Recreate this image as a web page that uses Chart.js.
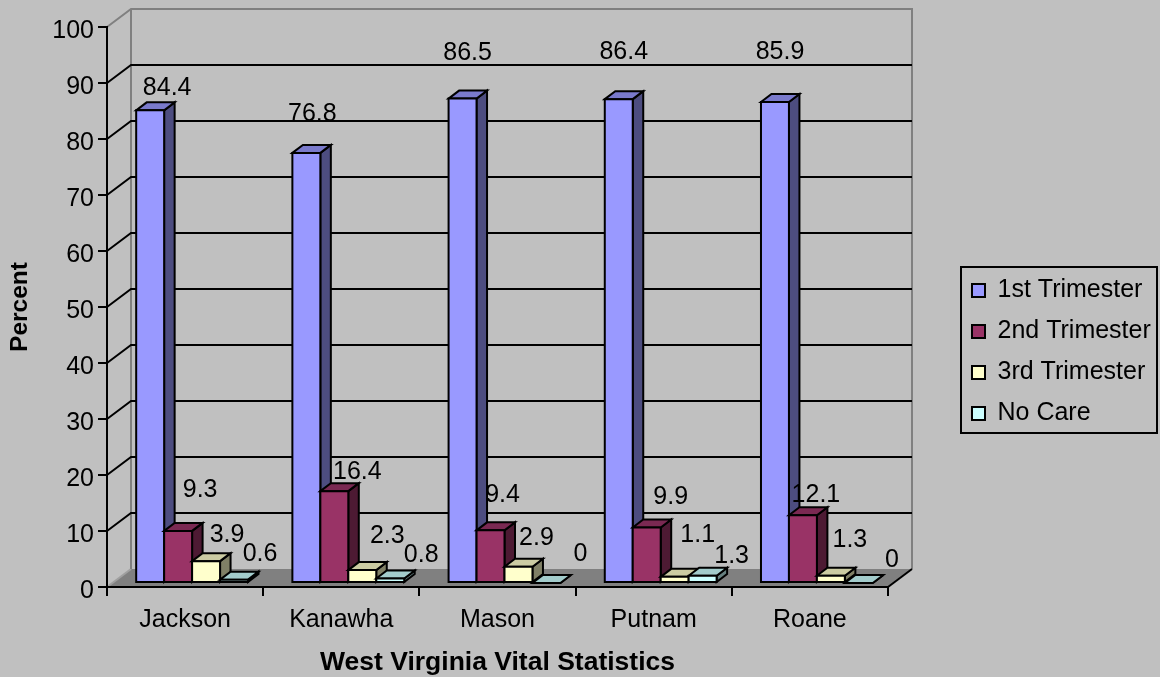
<!DOCTYPE html>
<html>
<head>
<meta charset="utf-8">
<title>West Virginia Vital Statistics</title>
<script src="https://cdn.jsdelivr.net/npm/chart.js@4"></script>
<style>
  html, body { margin: 0; padding: 0; background: #c0c0c0; }
  canvas { display: block; }
</style>
</head>
<body>
<canvas id="chart" width="1160" height="677"></canvas>
<script>
const counties = ["Jackson", "Kanawha", "Mason", "Putnam", "Roane"];
const firstTrimester = [84.4, 76.8, 86.5, 86.4, 85.9];
const secondTrimester = [9.3, 16.4, 9.4, 9.9, 12.1];
const thirdTrimester = [3.9, 2.3, 2.9, 1.1, 1.3];
const noCare = [0.6, 0.8, 0, 1.3, 0];
const yTicks = [0, 10, 20, 30, 40, 50, 60, 70, 80, 90, 100];

// the label placement in the original is uneven, so nudge per label [dx, dy] from bar top
const labelNudge = [
  [[17, -24], [22, -43], [21, -28], [26, -28]],
  [[6, -41], [23, -21], [25, -36], [31, -25]],
  [[5, -47], [12, -37], [18, -31], [34, -31]],
  [[5, -49], [24, -32], [23, -44], [29, -22]],
  [[5, -52], [13, -22], [19, -38], [33, -25]],
];

const FONT = "Liberation Sans, Arial, sans-serif";
const WALL = { dx: 24, dy: -18 };
const BAR_SHIFT = { dx: 7, dy: -4 };
const BAR_DEPTH = { dx: 10.5, dy: -8 };
const LABEL_DROP = 2;
const LEGEND_BOX = { left: 961, top: 267, right: 1157, bottom: 433 };

const faces = [
  { front: "#9999ff", top: "#7a7acc", side: "#4d4d80" },
  { front: "#993366", top: "#7a2952", side: "#4d1a33" },
  { front: "#ffffcc", top: "#cccca3", side: "#808066" },
  { front: "#ccffff", top: "#a3cccc", side: "#668080" },
];

function poly(ctx, pts, fill, stroke, width) {
  ctx.beginPath();
  pts.forEach((p, i) => (i ? ctx.lineTo(p[0], p[1]) : ctx.moveTo(p[0], p[1])));
  ctx.closePath();
  if (fill) {
    ctx.fillStyle = fill;
    ctx.fill();
  }
  if (stroke) {
    ctx.strokeStyle = stroke;
    ctx.lineWidth = width;
    ctx.stroke();
  }
}

function segment(ctx, pts, color, width) {
  ctx.beginPath();
  pts.forEach((p, i) => (i ? ctx.lineTo(p[0], p[1]) : ctx.moveTo(p[0], p[1])));
  ctx.strokeStyle = color;
  ctx.lineWidth = width;
  ctx.stroke();
}

const walls3d = {
  id: "walls3d",
  beforeDraw(chart) {
    const { ctx, chartArea: a, scales } = chart;
    const { dx, dy } = WALL;
    const y0 = scales.y.getPixelForValue(0);
    const y100 = scales.y.getPixelForValue(100);
    ctx.save();
    poly(ctx, [[a.left, y0], [a.left + dx, y0 + dy], [a.right + dx, y0 + dy], [a.right, y0]], "#808080");
    segment(ctx, [[a.left, y0], [a.left + dx, y0 + dy]], "#a0a0a0", 2);
    segment(ctx, [[a.left, y100], [a.left + dx, y100 + dy], [a.right + dx, y100 + dy], [a.right + dx, y0 + dy]], "#808080", 2);
    segment(ctx, [[a.left + dx, y100 + dy], [a.left + dx, y0 + dy]], "#808080", 2);
    segment(ctx, [[a.right + dx, y0 + dy], [a.right, y0]], "#000000", 2);
    yTicks.slice(1, -1).forEach((v) => {
      const y = scales.y.getPixelForValue(v);
      segment(ctx, [[a.left, y], [a.left + dx, y + dy], [a.right + dx, y + dy]], "#000000", 2);
    });
    ctx.restore();
  },
  beforeDatasetsDraw(chart) {
    const { ctx } = chart;
    const metas = chart.data.datasets.map((_, i) => chart.getDatasetMeta(i));
    ctx.save();
    ctx.translate(BAR_SHIFT.dx, BAR_SHIFT.dy);
    counties.forEach((_, c) => {
      metas.forEach((meta, s) => {
        const { x, y, base, width } = meta.data[c].getProps(["x", "y", "base", "width"], true);
        const l = x - width / 2;
        const r = x + width / 2;
        const { dx, dy } = BAR_DEPTH;
        ctx.lineJoin = "miter";
        poly(ctx, [[r, y], [r + dx, y + dy], [r + dx, base + dy], [r, base]], faces[s].side, "#000000", 2);
        poly(ctx, [[l, y], [l + dx, y + dy], [r + dx, y + dy], [r, y]], faces[s].top, "#000000", 2);
        // stroke sits on the edge here, chart.js would eat the short bars with an inner border
        poly(ctx, [[l, y], [r, y], [r, base], [l, base]], faces[s].front, "#000000", 2);
      });
    });
    // value labels go on top of every bar
    ctx.fillStyle = "#000000";
    ctx.font = "25px " + FONT;
    ctx.textAlign = "center";
    ctx.textBaseline = "middle";
    counties.forEach((_, c) => {
      metas.forEach((meta, s) => {
        const { x, y } = meta.data[c].getProps(["x", "y"], true);
        const value = chart.data.datasets[s].data[c];
        const [nx, ny] = labelNudge[c][s];
        ctx.fillText(String(value), x + nx, y + ny + LABEL_DROP);
      });
    });
    ctx.restore();
    return false;
  },
  afterLayout(chart) {
    // the legend sits outside the plot at a fixed spot; its own box is a bit larger than the frame
    Object.assign(chart.legend, {
      left: LEGEND_BOX.left - 5,
      top: LEGEND_BOX.top - 5,
      right: LEGEND_BOX.right + 3,
      bottom: LEGEND_BOX.bottom + 30,
      width: LEGEND_BOX.right - LEGEND_BOX.left + 8,
      height: LEGEND_BOX.bottom - LEGEND_BOX.top + 35,
    });
  },
  afterDraw(chart) {
    const { ctx } = chart;
    const b = LEGEND_BOX;
    ctx.save();
    ctx.strokeStyle = "#000000";
    ctx.lineWidth = 2;
    ctx.strokeRect(b.left, b.top, b.right - b.left, b.bottom - b.top);
    ctx.restore();
  },
};

function series(label, data, i) {
  return {
    label,
    data,
    backgroundColor: faces[i].front,
    borderColor: "#000000",
    borderWidth: 2,
    borderSkipped: false,
    barPercentage: 1,
    categoryPercentage: 0.716,
  };
}

new Chart(document.getElementById("chart"), {
  type: "bar",
  data: {
    labels: counties,
    datasets: [
      series("1st Trimester", firstTrimester, 0),
      series("2nd Trimester", secondTrimester, 1),
      series("3rd Trimester", thirdTrimester, 2),
      series("No Care", noCare, 3),
    ],
  },
  plugins: [walls3d],
  options: {
    responsive: false,
    animation: false,
    layout: { padding: { left: 0, top: 27, right: 272, bottom: 0 } },
    plugins: {
      tooltip: { enabled: false },
      legend: {
        position: "chartArea",
        align: "start",
        labels: {
          color: "#000000",
          font: { family: FONT, size: 25 },
          boxWidth: 13,
          boxHeight: 13,
          padding: 16,
        },
      },
    },
    scales: {
      x: {
        afterFit: (s) => { s.height = 90; },
        grid: { drawOnChartArea: false, color: "#000000", lineWidth: 2, tickLength: 9 },
        border: { color: "#000000", width: 2 },
        ticks: { color: "#000000", font: { family: FONT, size: 25 }, padding: 9, maxRotation: 0 },
        title: {
          display: true,
          text: "West Virginia Vital Statistics",
          color: "#000000",
          font: { family: FONT, size: 26.5, weight: "bold" },
          padding: { top: 4, bottom: -2 },
        },
      },
      y: {
        min: 0,
        max: 100,
        afterFit: (s) => { s.width = 107; },
        afterBuildTicks: (s) => { s.ticks = yTicks.map((value) => ({ value })); },
        grid: { drawOnChartArea: false, color: "#000000", lineWidth: 2, tickLength: 9 },
        border: { color: "#000000", width: 2 },
        ticks: { color: "#000000", font: { family: FONT, size: 25 }, padding: 4, labelOffset: 4 },
        title: {
          display: true,
          text: "Percent",
          color: "#000000",
          font: { family: FONT, size: 24.5, weight: "bold" },
          padding: { top: 6, bottom: 0 },
        },
      },
    },
  },
});
</script>
</body>
</html>
